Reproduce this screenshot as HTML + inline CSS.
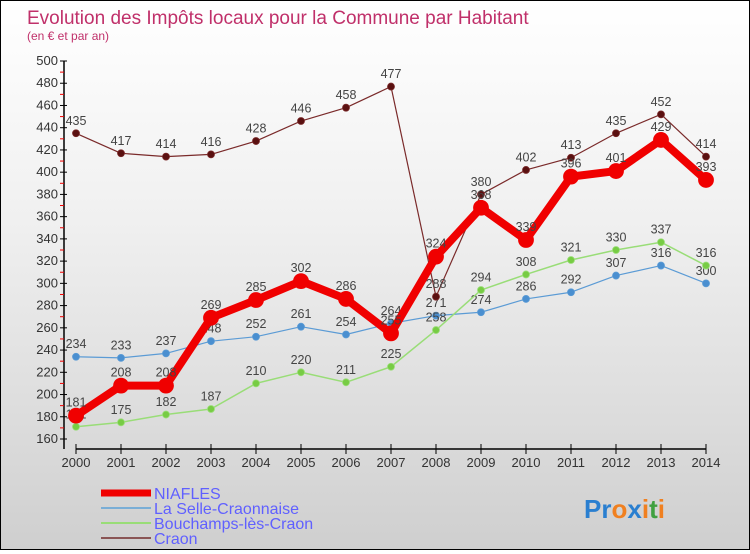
<!DOCTYPE html>
<html><head><meta charset="utf-8">
<style>
html,body{margin:0;padding:0}
body{width:750px;height:550px;overflow:hidden;font-family:"Liberation Sans",sans-serif}
#wrap{position:relative;width:748px;height:548px;border:1px solid #000;background:linear-gradient(#fff 0%,#f0f0f0 40%,#cfcfcf 100%)}
</style></head><body>
<div id="wrap">
<svg id="chart" width="748" height="548" xmlns="http://www.w3.org/2000/svg">
<text x="26" y="23" font-size="19" fill="#c0306a">Evolution des Impôts locaux pour la Commune par Habitant</text>
<text x="26" y="39" font-size="12" fill="#c0306a">(en € et par an)</text>
<g id="axes"></g>
<g id="series"></g>
<g id="legend"></g>
<text x="583" y="517" font-size="26" font-weight="bold"><tspan fill="#2a7fd0">Pr</tspan><tspan fill="#f08020">o</tspan><tspan fill="#2a7fd0">x</tspan><tspan fill="#f08020">i</tspan><tspan fill="#40a040">t</tspan><tspan fill="#f08020">i</tspan></text>
</svg>
</div>
<script>
const years=[2000,2001,2002,2003,2004,2005,2006,2007,2008,2009,2010,2011,2012,2013,2014];
const niafles=[181,208,208,269,285,302,286,255,324,368,339,396,401,429,393];
const selle=[234,233,237,248,252,261,254,264,271,274,286,292,307,316,300];
const bouchamps=[171,175,182,187,210,220,211,225,258,294,308,321,330,337,316];
const craon=[435,417,414,416,428,446,458,477,288,380,402,413,435,452,414];
const yTicks=[160,180,200,220,240,260,280,300,320,340,360,380,400,420,440,460,480,500];
const seriesNames=["NIAFLES","La Selle-Craonnaise","Bouchamps-lès-Craon","Craon"];

const NS="http://www.w3.org/2000/svg";
const x=i=>75+i*45;
const y=v=>438-(v-160)*(378/340);
function mk(tag,attrs,parent,txt){const e=document.createElementNS(NS,tag);for(const k in attrs)e.setAttribute(k,attrs[k]);if(txt!==undefined)e.textContent=txt;parent.appendChild(e);return e;}
const axes=document.getElementById('axes'),ser=document.getElementById('series'),leg=document.getElementById('legend');

let a=mk('line',{x1:63,y1:y(500),x2:63,y2:448,stroke:'#000','stroke-width':1.5},axes);


yTicks.forEach(t=>{
  let l=mk('line',{x1:59,x2:66,y1:y(t),y2:y(t),stroke:'#000'},axes);
  
  
  let tx=mk('text',{x:57,y:y(t)+4,'font-size':13,fill:'#333','text-anchor':'end'},axes,t);
  
  
  if(t<500){let m=mk('line',{x1:59,x2:63,y1:y(t+10),y2:y(t+10),stroke:'#e00'},axes);
  
  }
});
let xa=mk('line',{x1:x(0),y1:448,x2:x(14),y2:448,stroke:'#000','stroke-width':1.5},axes);


years.forEach((yr,i)=>{
  let l=mk('line',{x1:x(i),x2:x(i),y1:443,y2:453,stroke:'#000'},axes);
  
  
  let tx=mk('text',{x:x(i),y:466,'font-size':13,fill:'#333','text-anchor':'middle'},axes,yr);
  
  
});

function drawSeries(data,color,w,r,name,dot){
  const g=mk('g',{},ser);
  
  
  let p=mk('polyline',{points:data.map((v,i)=>x(i)+','+y(v)).join(' '),fill:'none',stroke:color,'stroke-width':w,'stroke-linejoin':'round'},g);
  
  
  data.forEach((v,i)=>{
    let c=mk('circle',{cx:x(i),cy:y(v),r:r,fill:dot,stroke:color,'stroke-width':0.8},g);
    
    
    let t=mk('text',{x:x(i),y:y(v)-Math.min(r,4)-5,'font-size':12.5,fill:'#444','text-anchor':'middle'},g,v);
    
    
  });
}
drawSeries(selle,'#5b9bd5',1.2,3.5,'la-selle-craonnaise','#4a8fd0');
drawSeries(bouchamps,'#99dd77',1.5,3.5,'bouchamps-les-craon','#77cc44');
drawSeries(craon,'#7a2a2a',1.2,3.5,'craon','#5a1010');
drawSeries(niafles,'#f00000',8,7.5,'niafles','#f00000');

const legColors=['#f00000','#7aaed6','#99dd77','#8a5555'],legW=[7,2,2,2];
seriesNames.forEach((n,i)=>{
  const yy=492+i*15;
  let l=mk('line',{x1:100,x2:150,y1:yy,y2:yy,stroke:legColors[i],'stroke-width':legW[i]},leg);
  
  
  let t=mk('text',{x:153,y:yy+6,'font-size':16,fill:'#6060ff'},leg,n);
  
  
});
</script>
</body></html>
